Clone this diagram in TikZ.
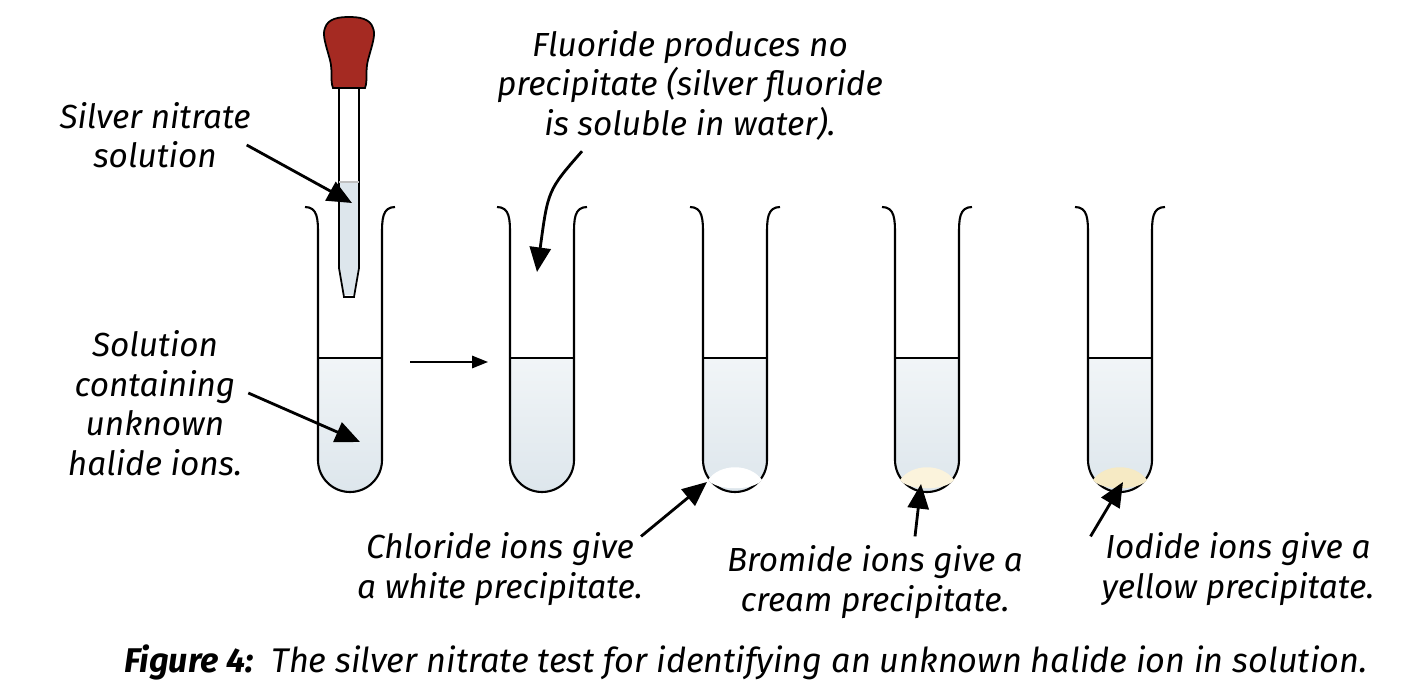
\documentclass[tikz,border=0pt]{standalone}
\usepackage{fontspec}
\setmainfont{Fira Sans}
\usetikzlibrary{arrows.meta, positioning}
\definecolor{liquid}{HTML}{DDE6EC}
\definecolor{bulb}{HTML}{A52A22}
\definecolor{cream}{HTML}{FBF3DC}
\definecolor{yellowppt}{HTML}{F6EAC4}

\begin{document}
\begin{tikzpicture}[
    x=0.02cm, y=-0.02cm,
    label/.style={font=\fontsize{19}{22.5}\selectfont\itshape, align=center},
    glass/.style={draw, line width=1.2pt},
    pointer/.style={-{Triangle[length=14pt, width=12pt]}, line width=1.6pt},
    next/.style={-{Triangle[length=9pt, width=7pt]}, line width=1pt}
]
    \useasboundingbox (0,0) rectangle (1410,693);

    % Test tubes
    \foreach \cx in {350, 542, 735, 927, 1120} {
        \fill[top color=white!60!liquid, bottom color=liquid]
            (\cx-32,358) -- (\cx-32,460) arc[start angle=180, end angle=0, radius=32]
            -- (\cx+32,358) -- cycle;
        \draw[glass] (\cx-45,207) .. controls (\cx-32,207) and (\cx-32,220) .. (\cx-32,235)
            -- (\cx-32,460) arc[start angle=180, end angle=0, radius=32]
            -- (\cx+32,235) .. controls (\cx+32,220) and (\cx+32,207) .. (\cx+45,207);
        \draw[glass] (\cx-32,358) -- (\cx+32,358);
    }
    % Precipitates
    \foreach \cx/\ppt in {735/white, 927/cream, 1120/yellowppt} {
        \fill[\ppt] (\cx-27,480) .. controls (\cx-15,463) and (\cx+15,463) .. (\cx+27,480)
            .. controls (\cx+18,491) and (\cx-18,491) .. cycle;
    }

    % Dropper
    \fill[liquid] (339,182) -- (359,182) -- (359,268) -- (354,295) -- (344,295) -- (339,268) -- cycle;
    \draw[line width=1pt] (339,85) -- (339,268) -- (344,297) -- (354,297) -- (359,268) -- (359,85);
    \draw[gray!50, line width=0.6pt] (339,182) -- (359,182);
    \draw[line width=1pt, fill=bulb] (333,88) .. controls (330,80) and (333,72) .. (330,60)
        .. controls (326,45) and (322,35) .. (325,28) .. controls (328,18) and (340,17) .. (349,17)
        .. controls (358,17) and (370,18) .. (373,28) .. controls (376,35) and (372,45) .. (368,60)
        .. controls (365,72) and (368,80) .. (365,88) -- cycle;

    % Labels
    \node[label] (silver) at (155,135) {Silver nitrate\\solution};
    \node[label] (fluoride) at (690,85) {Fluoride produces no\\precipitate (silver fluoride\\is soluble in water).};
    \node[label] (solution) at (155,403) {Solution\\containing\\unknown\\halide ions.};
    \node[label] (chloride) at (500,569) {Chloride ions give\\a white precipitate.};
    \node[label] (bromide) at (875,582) {Bromide ions give a\\cream precipitate.};
    \node[label] (iodide) at (1238,569) {Iodide ions give a\\yellow precipitate.};
    \node[font=\fontsize{19.5}{22}\selectfont\itshape, anchor=west] (caption) at (118,662)
        {\textbf{Figure 4:}\ \ The silver nitrate test for identifying an unknown halide ion in solution.};

    % Pointers
    \coordinate (dropliq) at (352,203);
    \coordinate (tubeliq) at (360,442);
    \coordinate (empty) at (537,272);
    \coordinate (pptw) at (707,482);
    \coordinate (pptc) at (921,484);
    \coordinate (ppty) at (1123,482);
    \coordinate (stepa) at (410,362);
    \coordinate (stepb) at (488,362);
    \draw[pointer] (silver.east) ++(-10,10) -- (dropliq);
    \draw[pointer] (solution.east) ++(0,-10) -- (tubeliq);
    \draw[pointer] (fluoride.south) ++(-108,5) .. controls (548,190) .. (empty);
    \draw[pointer] (chloride.north east) ++(-8,10) -- (pptw);
    \draw[pointer] (bromide.north) ++(40,-3) -- (pptc);
    \draw[pointer] (iodide.north west) ++(-5,10) -- (ppty);
    \draw[next] (stepa) -- (stepb);
\end{tikzpicture}
\end{document}
